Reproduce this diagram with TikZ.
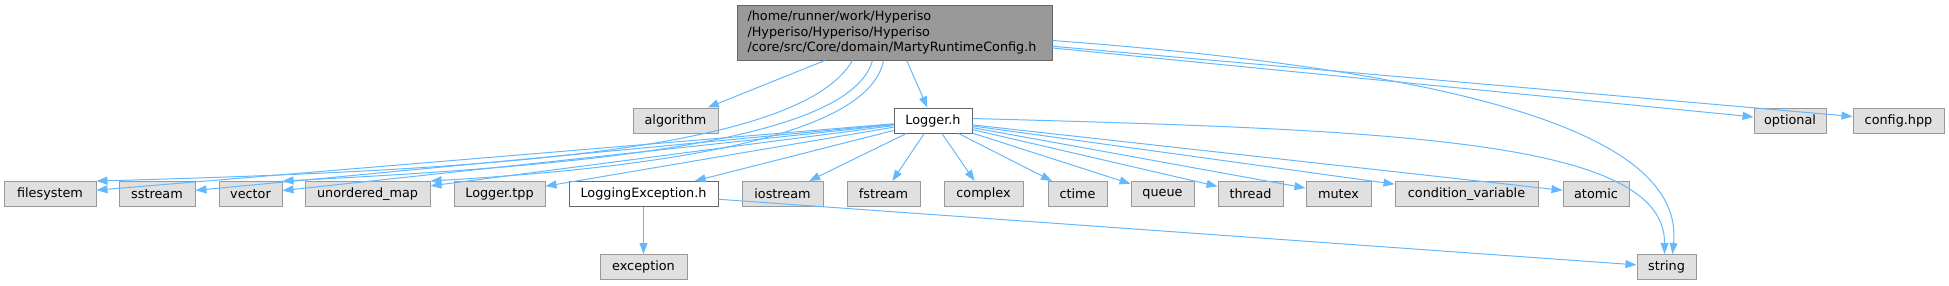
\documentclass[tikz,border=0pt]{standalone}
\usepackage{fontspec}
\setmainfont{DejaVu Sans}
\usepackage{tikz}
\usetikzlibrary{arrows.meta, positioning}
\definecolor{incedge}{HTML}{63B8FF}
\definecolor{incgray}{HTML}{E0E0E0}
\definecolor{incline}{HTML}{999999}
\definecolor{incdark}{HTML}{666666}
\definecolor{incroot}{HTML}{999999}
\tikzset{
  nodebox/.style={draw=incdark, fill=white, line width=1pt, inner sep=0pt,
                  minimum height=25pt, font=\fontsize{12.8}{15.5}\selectfont},
  extbox/.style={nodebox, draw=incline, fill=incgray},
  rootbox/.style={nodebox, fill=incroot, draw=incdark, text width=294pt,
                  align=left, inner xsep=10.5pt, minimum height=55pt},
  arrow/.style={-{Triangle[length=11pt,width=8pt]}, line width=1pt}
}

\begin{document}
\begin{tikzpicture}[x=1pt, y=-1pt]
    \useasboundingbox (0,0) rectangle (1949,285);

    \node[rootbox, minimum width=315pt] (root) at (894.5,32.5)
      {/home/runner/work/Hyperiso\\/Hyperiso/Hyperiso/Hyperiso\\/core/src/Core/domain/MartyRuntimeConfig.h};

    \node[extbox, minimum width=85pt] (algo) at (675.5,120.5) {algorithm};
    \node[nodebox, minimum width=78pt] (logger) at (933,120.5) {Logger.h};
    \node[extbox, minimum width=72pt] (optional) at (1790,120.5) {optional};
    \node[extbox, minimum width=91pt] (config) at (1898.5,120.5) {config.hpp};

    \node[extbox, minimum width=92pt] (fsys) at (50,194) {filesystem};
    \node[extbox, minimum width=76pt] (sstream) at (157,194) {sstream};
    \node[extbox, minimum width=63pt] (vector) at (250.5,194) {vector};
    \node[extbox, minimum width=125pt] (umap) at (367.5,194) {unordered\_map};
    \node[extbox, minimum width=91pt] (tpp) at (499.5,194) {Logger.tpp};
    \node[nodebox, minimum width=149pt] (logexc) at (643.5,194) {LoggingException.h};
    \node[extbox, minimum width=81pt] (iostream) at (782.5,194) {iostream};
    \node[extbox, minimum width=73pt] (fstream) at (883.5,194) {fstream};
    \node[extbox, minimum width=79pt] (complex) at (983.5,194) {complex};
    \node[extbox, minimum width=59pt] (ctime) at (1077.5,194) {ctime};
    \node[extbox, minimum width=63pt] (queue) at (1162.5,194) {queue};
    \node[extbox, minimum width=65pt] (thread) at (1250.5,194) {thread};
    \node[extbox, minimum width=65pt] (mutex) at (1338.5,194) {mutex};
    \node[extbox, minimum width=143pt] (condvar) at (1466.5,194) {condition\_variable};
    \node[extbox, minimum width=66pt] (atomic) at (1596,194) {atomic};

    \node[extbox, minimum width=87pt] (exception) at (643.5,267) {exception};
    \node[extbox, minimum width=59pt] (string) at (1666.5,267) {string};

    % edges of the config header
    \draw[arrow,draw=incedge] (root) -- (algo);
    \draw[arrow,draw=incedge] (root) -- (logger);
    \draw[arrow,draw=incedge] (root) -- (optional);
    \draw[arrow,draw=incedge] (root) -- (config);
    \draw[arrow,draw=incedge] ([xshift=-42pt]root.south)
      .. controls (800,150) and (500,170) .. (fsys.north east);
    \draw[arrow,draw=incedge] ([xshift=-22pt]root.south)
      .. controls (850,140) and (600,165) .. (vector.north east);
    \draw[arrow,draw=incedge] ([xshift=-11pt]root.south)
      .. controls (870,130) and (700,165) .. (umap.north east);
    \draw[arrow,draw=incedge] ([yshift=-8pt]root.east)
      .. controls (1450,70) and (1685,130) .. ([xshift=6pt]string.north);

    % edges of the logger
    \foreach \dst in {fsys, sstream, vector, umap, tpp, logexc, iostream, fstream,
                      complex, ctime, queue, thread, mutex, condvar, atomic}
      \draw[arrow,draw=incedge] (logger) -- (\dst);
    \draw[arrow,draw=incedge] ([yshift=2pt]logger.east)
      .. controls (1400,130) and (1665,140) .. ([xshift=-2pt]string.north);

    \draw[arrow,draw=incedge] (logexc) -- (exception);
    \draw[arrow,draw=incedge] (logexc) -- (string);
  \end{tikzpicture}
\end{document}
